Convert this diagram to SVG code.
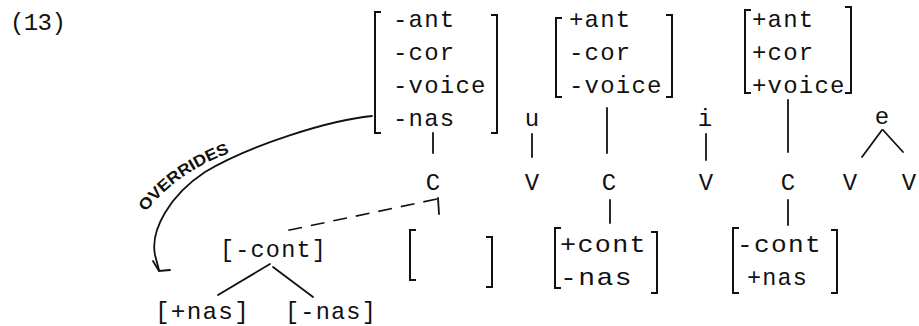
<svg xmlns="http://www.w3.org/2000/svg" width="919" height="326" viewBox="0 0 919 326">
  <style>
    .t { font-family: "Liberation Mono", "DejaVu Sans Mono", monospace; font-size: 24px; letter-spacing: 1.2px; fill: #111; }
    .c { text-anchor: middle; letter-spacing: 0; }
    .hand { font-family: "Liberation Sans", "DejaVu Sans", sans-serif; font-weight: bold; font-size: 16px; fill: #111; }
    .br { fill: none; stroke: #111; stroke-width: 2; stroke-linejoin: miter; }
    .ln { fill: none; stroke: #111; stroke-width: 1.8; stroke-linecap: round; }
    .dash { fill: none; stroke: #111; stroke-width: 1.6; stroke-dasharray: 14 9; }
  </style>

  <text id="label" class="t" x="10" y="30" textLength="57">(13)</text>

  <!-- feature matrix of the first consonant -->
  <g id="m1">
    <path class="br" d="M381,12 H375 V133 H381"/>
    <path class="br" d="M491,15 H497 V133 H491"/>
    <text class="t" x="393" y="27">-ant</text>
    <text class="t" x="393" y="60">-cor</text>
    <text class="t" x="393" y="93">-voice</text>
    <text class="t" x="393" y="126">-nas</text>
  </g>

  <g id="u"><text class="t c" x="532" y="126">u</text></g>

  <!-- feature matrix of the second consonant -->
  <g id="m2">
    <path class="br" d="M562,18 H556 V97 H562"/>
    <path class="br" d="M666,15 H672 V97 H666"/>
    <text class="t" x="569" y="27">+ant</text>
    <text class="t" x="569" y="60">-cor</text>
    <text class="t" x="569" y="93">-voice</text>
  </g>

  <g id="i"><text class="t c" x="705" y="126">i</text></g>

  <!-- feature matrix of the third consonant -->
  <g id="m3">
    <path class="br" d="M751,10 H745 V93 H751"/>
    <path class="br" d="M845,7 H851 V93 H845"/>
    <text class="t" x="752" y="27">+ant</text>
    <text class="t" x="752" y="60">+cor</text>
    <text class="t" x="752" y="93">+voice</text>
  </g>

  <g id="e"><text class="t c" x="882" y="124">e</text></g>

  <!-- skeleton slots -->
  <g id="c1"><text class="t c" x="433" y="190">C</text></g>
  <g id="v1"><text class="t c" x="532" y="190">V</text></g>
  <g id="c2"><text class="t c" x="609" y="190">C</text></g>
  <g id="v2"><text class="t c" x="706" y="190">V</text></g>
  <g id="c3"><text class="t c" x="788" y="190">C</text></g>
  <g id="v3"><text class="t c" x="850" y="190">V</text></g>
  <g id="v4"><text class="t c" x="909" y="190">V</text></g>

  <!-- lower feature bundles -->
  <g id="cont">
    <text class="t" x="220" y="257" textLength="107" lengthAdjust="spacingAndGlyphs">[-cont]</text>
  </g>
  <g id="plusnas"><text class="t" x="155" y="319" textLength="95" lengthAdjust="spacingAndGlyphs">[+nas]</text></g>
  <g id="minusnas"><text class="t" x="285" y="319" textLength="92" lengthAdjust="spacingAndGlyphs">[-nas]</text></g>

  <g id="empty">
    <path class="br" d="M416,230 H410 V280 H416"/>
    <path class="br" d="M486,237 H492 V287 H486"/>
  </g>

  <g id="m4">
    <path class="br" d="M561,228 H555 V288 H561"/>
    <path class="br" d="M651,232 H657 V293 H651"/>
    <text class="t" x="560" y="252" textLength="87" lengthAdjust="spacingAndGlyphs">+cont</text>
    <text class="t" x="560" y="285" textLength="73" lengthAdjust="spacingAndGlyphs">-nas</text>
  </g>

  <g id="m5">
    <path class="br" d="M739,228 H733 V293 H739"/>
    <path class="br" d="M831,230 H837 V293 H831"/>
    <text class="t" x="737" y="252" textLength="85" lengthAdjust="spacingAndGlyphs">-cont</text>
    <text class="t" x="747" y="285" textLength="61" lengthAdjust="spacingAndGlyphs">+nas</text>
  </g>

  <!-- association lines -->
  <g id="connectors">
    <line class="ln" x1="433" y1="133" x2="433" y2="153"/>
    <line class="ln" x1="532" y1="134" x2="532" y2="157"/>
    <line class="ln" x1="607" y1="108" x2="607" y2="153"/>
    <line class="ln" x1="706" y1="134" x2="706" y2="160"/>
    <line class="ln" x1="788" y1="100" x2="788" y2="152"/>
    <line class="ln" x1="882" y1="130" x2="862" y2="157"/>
    <line class="ln" x1="883" y1="130" x2="903" y2="152"/>

    <line class="ln" x1="438" y1="198" x2="439" y2="214"/>
    <line class="dash" x1="437" y1="199" x2="285" y2="231"/>
    <line class="ln" x1="610" y1="200" x2="610" y2="223"/>
    <line class="ln" x1="788" y1="200" x2="788" y2="225"/>

    <line class="ln" x1="270" y1="264" x2="218" y2="295" stroke-width="2.6"/>
    <line class="ln" x1="273" y1="267" x2="313" y2="297"/>

    <!-- hand-drawn curved arrow -->
    <path class="ln" d="M372,116 C330,120 250,145 205,172 C170,195 150,230 155,255 L159,270" stroke-width="1.5"/>
    <path class="ln" d="M153,261 L159,271 L170,270" stroke-width="1.5"/>
  </g>

  <path id="ovp" d="M146,212 Q178,170 238,150" fill="none"/>
  <text class="hand"><textPath href="#ovp" textLength="104" lengthAdjust="spacingAndGlyphs">OVERRIDES</textPath></text>
</svg>
